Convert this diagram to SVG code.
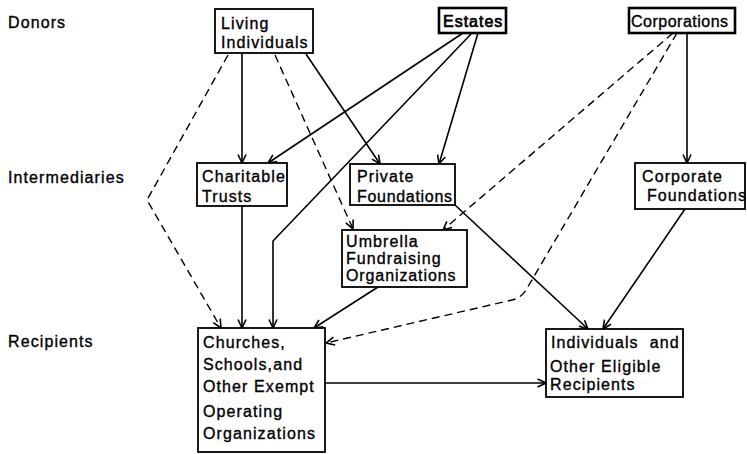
<svg xmlns="http://www.w3.org/2000/svg" width="747" height="454" viewBox="0 0 747 454">
<style>
  text { font-family: "Liberation Sans", Arial, sans-serif; font-size: 16px; letter-spacing: 1.1px; fill: #000; stroke: #000; stroke-width: 0.35; }
  .box { fill: #fff; stroke: #000; stroke-width: 1.8; }
  .boxb { fill: #fff; stroke: #000; stroke-width: 2.6; }
  .ln { fill: none; stroke: #000; stroke-width: 1.6; marker-end: url(#arr); }
  .dash { fill: none; stroke: #000; stroke-width: 1.4; stroke-dasharray: 8 5; marker-end: url(#arr); }
</style>
<defs>
  <marker id="arr" viewBox="0 0 10 10" refX="9.5" refY="5" markerWidth="10" markerHeight="10" markerUnits="userSpaceOnUse" orient="auto">
    <path d="M1,1 L9.5,5 L1,9" fill="none" stroke="#000" stroke-width="1.6" stroke-dasharray="none"/>
  </marker>
</defs>
<rect width="747" height="454" fill="#fff"/>

<g id="row-labels">
  <text x="8" y="28">Donors</text>
  <text x="8" y="183">Intermediaries</text>
  <text x="8" y="347">Recipients</text>
</g>

<g id="connectors">
  <path class="ln" d="M242,54 L242,163"/>
  <path class="dash" d="M228,55 L147,200 L221,328"/>
  <path class="dash" d="M275,55 L353,229"/>
  <path class="ln" d="M306,54 L380,164"/>
  <path class="ln" d="M463,33 L268,163"/>
  <path class="ln" d="M472,33 L273,241 L273,328"/>
  <path class="ln" d="M478,33 L439,164"/>
  <path class="ln" d="M687,33 L687,163"/>
  <path class="dash" d="M673,33 L443,230"/>
  <path class="dash" d="M677,33 L526,290 Q521,298 512,300 L326,343"/>
  <path class="ln" d="M242,206 L242,328"/>
  <path class="ln" d="M378,287 L314,328"/>
  <path class="ln" d="M455,205 L588,329"/>
  <path class="ln" d="M685,209 L603,329"/>
  <path class="ln" d="M325,383 L546,383"/>
</g>

<g id="living-individuals">
  <rect class="box" x="215" y="9" width="98" height="44"/>
  <text x="221" y="29">Living</text>
  <text x="221" y="48">Individuals</text>
</g>
<g id="estates">
  <rect class="boxb" x="439" y="8" width="67" height="25"/>
  <text x="443" y="27" style="stroke-width:0.7;letter-spacing:1px">Estates</text>
</g>
<g id="corporations">
  <rect class="boxb" x="629" y="8" width="106" height="25"/>
  <text x="631" y="27" style="letter-spacing:0.5px">Corporations</text>
</g>
<g id="charitable-trusts">
  <rect class="box" x="197" y="163" width="90" height="43"/>
  <text x="202" y="182">Charitable</text>
  <text x="202" y="202">Trusts</text>
</g>
<g id="private-foundations">
  <rect class="box" x="350" y="164" width="105" height="41"/>
  <text x="357" y="182">Private</text>
  <text x="357" y="202" style="letter-spacing:0.7px">Foundations</text>
</g>
<g id="umbrella">
  <rect class="box" x="342" y="230" width="125" height="57"/>
  <text x="346" y="247">Umbrella</text>
  <text x="346" y="264">Fundraising</text>
  <text x="346" y="281" style="letter-spacing:0.9px">Organizations</text>
</g>
<g id="corporate-foundations">
  <rect class="box" x="635" y="163" width="110" height="46"/>
  <text x="642" y="182">Corporate</text>
  <text x="647" y="201">Foundations</text>
</g>
<g id="churches">
  <rect class="box" x="198" y="328" width="127" height="124"/>
  <text x="203" y="348">Churches,</text>
  <text x="203" y="370">Schools,and</text>
  <text x="203" y="392">Other Exempt</text>
  <text x="203" y="417">Operating</text>
  <text x="203" y="439">Organizations</text>
</g>
<g id="individuals-recipients">
  <rect class="box" x="546" y="329" width="137" height="68"/>
  <text x="551" y="348" xml:space="preserve">Individuals  and</text>
  <text x="550" y="372">Other Eligible</text>
  <text x="550" y="390">Recipients</text>
</g>
</svg>
